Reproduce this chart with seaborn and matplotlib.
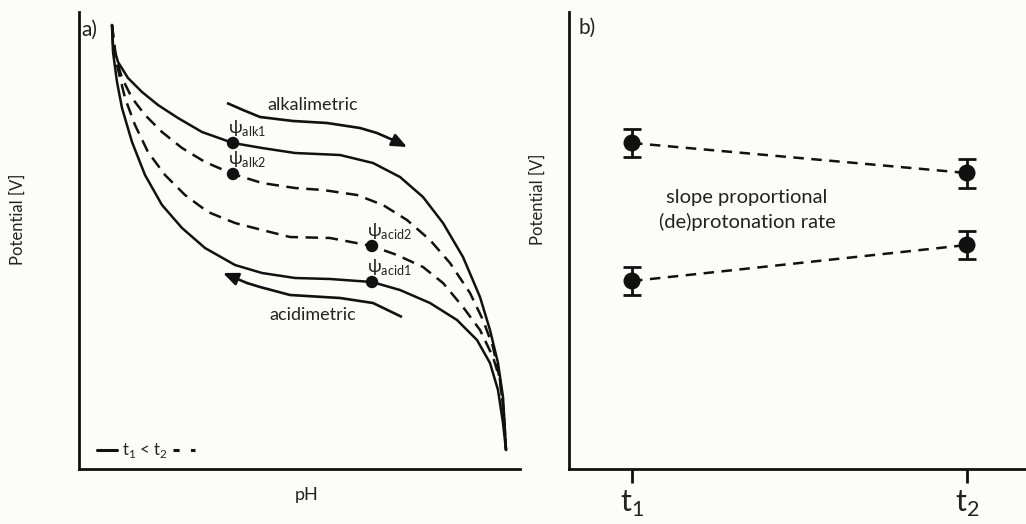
import numpy as np
import pandas as pd
import matplotlib
matplotlib.use('Agg')
import matplotlib.pyplot as plt
import seaborn as sns

sns.set_theme(style='white')
plt.rcParams['font.family'] = ['Lato', 'DejaVu Sans']
plt.rcParams['mathtext.fontset'] = 'custom'
plt.rcParams['mathtext.rm'] = 'Lato'

BG = '#fcfcf9'
INK = '#111111'
TXT = '#222222'

# ── panel a : titration curves (x = pH, y = potential, arbitrary units) ──
alk1_x = [33, 34, 39, 49, 63, 79, 99, 123, 154, 183, 216, 261, 294, 321, 344, 364, 384, 401, 411, 419, 424, 427]
alk1_y = [444, 424, 407, 391, 377, 364, 351, 337, 326, 321, 316, 314, 306, 292, 272, 246, 212, 172, 139, 106, 72, 19]

alk2_x = [33, 36, 43, 53, 66, 83, 103, 126, 154, 183, 216, 244, 278, 304, 328, 351, 371, 391, 404, 414, 421, 425, 427]
alk2_y = [444, 414, 391, 371, 354, 337, 321, 307, 295, 286, 281, 279, 274, 264, 249, 229, 206, 176, 149, 122, 89, 54, 19]

acid2_x = [33, 38, 46, 56, 69, 86, 106, 129, 156, 183, 211, 251, 293, 318, 344, 364, 384, 401, 414, 421, 425, 427]
acid2_y = [444, 404, 371, 344, 317, 294, 274, 257, 246, 239, 232, 231, 223, 214, 202, 186, 162, 139, 112, 89, 54, 19]

acid1_x = [33, 34, 38, 43, 53, 66, 83, 103, 126, 156, 183, 216, 251, 293, 321, 351, 378, 398, 411, 419, 424, 427]
acid1_y = [444, 417, 387, 361, 327, 294, 264, 241, 221, 204, 196, 191, 190, 187, 179, 166, 149, 129, 106, 79, 46, 19]

psi_names = ['alk1', 'alk2', 'acid2', 'acid1']
psi_x = [154, 154, 293, 293]
psi_y = [326, 295, 223, 187]

alk_arrow_x = [148, 164, 181, 214, 248, 281, 298, 314, 328]
alk_arrow_y = [366, 359, 352, 348, 346, 341, 336, 329, 322]
acid_arrow_x = [323, 294, 261, 211, 181, 168, 144]
acid_arrow_y = [152, 166, 171, 174, 182, 186, 196]

# ── panel b : potential at t1 and t2 ──
times = [1, 2]
time_labels = ['t$_1$', 't$_2$']
upper_pot = [326, 296]
upper_err = [14, 14.5]
lower_pot = [188, 224]
lower_err = [14, 14]

fig = plt.figure(figsize=(10.26, 5.24), dpi=100, facecolor=BG)
ax_a = fig.add_axes([79 / 1026, 55 / 524, 441 / 1026, 457 / 524], facecolor=BG)
ax_b = fig.add_axes([569 / 1026, 55 / 524, 457 / 1026, 457 / 524], facecolor=BG)

for ax in (ax_a, ax_b):
    for s in ['top', 'right']:
        ax.spines[s].set_visible(False)
    for s in ['left', 'bottom']:
        ax.spines[s].set_color(INK)
        ax.spines[s].set_linewidth(2.0)

dash = (0, (5, 3))
curves = [(alk1_x, alk1_y, '-'), (alk2_x, alk2_y, dash),
          (acid2_x, acid2_y, dash), (acid1_x, acid1_y, '-')]
for cx, cy, ls in curves:
    sns.lineplot(x=cx, y=cy, sort=False, estimator=None, ax=ax_a,
                 color=INK, lw=1.8, linestyle=ls, solid_joinstyle='round')

sns.scatterplot(x=psi_x, y=psi_y, ax=ax_a, color=INK, s=80,
                edgecolor='none', zorder=5)
for name, px, py in zip(psi_names, psi_x, psi_y):
    ax_a.text(px - 5, py + 5, 'ψ$_{\\mathrm{' + name + '}}$', fontsize=13,
              ha='left', va='bottom', color=TXT)

for arr_x, arr_y in [(alk_arrow_x, alk_arrow_y), (acid_arrow_x, acid_arrow_y)]:
    ax_a.plot(arr_x[:-1], arr_y[:-1], color=INK, lw=1.9, solid_capstyle='butt',
              solid_joinstyle='round')
    ax_a.annotate('', xy=(arr_x[-1], arr_y[-1]), xytext=(arr_x[-2], arr_y[-2]),
                  arrowprops=dict(arrowstyle='-|>,head_length=0.75,head_width=0.32',
                                  color=INK, lw=1.9, shrinkA=0, shrinkB=0))

ax_a.text(234, 364, 'alkalimetric', fontsize=13, ha='center', va='center', color=TXT)
ax_a.text(234, 154, 'acidimetric', fontsize=13, ha='center', va='center', color=TXT)
ax_a.text(2, 439, 'a)', fontsize=15, ha='left', va='center', color=TXT)

# small legend in the corner
ax_a.plot([18, 38], [19, 19], color=INK, lw=2.2)
ax_a.text(43, 19, 't$_1$ < t$_2$', fontsize=12, ha='left', va='center', color=TXT)
ax_a.plot([94, 116], [19, 19], color=INK, lw=2.2, linestyle=(0, (2, 3.7)))

ax_a.set_xlim(0, 441)
ax_a.set_ylim(0, 457)
ax_a.set_xticks([])
ax_a.set_yticks([])

# panel b
for pot in (upper_pot, lower_pot):
    sns.lineplot(x=times, y=pot, ax=ax_b, color=INK, lw=1.8,
                 linestyle=(0, (4.2, 3)))
for pot, err in [(upper_pot, upper_err), (lower_pot, lower_err)]:
    ax_b.errorbar(times, pot, yerr=err, fmt='none', ecolor=INK,
                  elinewidth=2, capsize=6.5, capthick=2)
    sns.scatterplot(x=times, y=pot, ax=ax_b, color=INK, s=150,
                    edgecolor='none', zorder=5)

ax_b.text(1.343, 259, 'slope proportional\n(de)protonation rate', fontsize=14.5,
          ha='center', va='center', linespacing=1.45, color=TXT)
ax_b.text(0.02, 0.965, 'b)', transform=ax_b.transAxes, fontsize=15,
          ha='left', va='center', color=TXT)

ax_b.set_xlim(1 - 63 / 335, 2 + 59 / 335)
ax_b.set_ylim(0, 457)
ax_b.set_yticks([])
ax_b.set_xticks(times)
ax_b.set_xticklabels(time_labels, fontsize=22, color=TXT)
ax_b.tick_params(axis='x', direction='out', length=10, width=2, color=INK,
                 bottom=True, pad=4)

fig.text(307 / 1026, 1 - 495 / 524, 'pH', fontsize=13, ha='center', va='center', color=TXT)
fig.text(18 / 1026, 1 - 219 / 524, 'Potential [V]', fontsize=12, rotation=90,
         ha='center', va='center', color=TXT)
fig.text(538 / 1026, 1 - 199 / 524, 'Potential [V]', fontsize=12, rotation=90,
         ha='center', va='center', color=TXT)

fig.savefig('out.png', dpi=100, facecolor=BG)
